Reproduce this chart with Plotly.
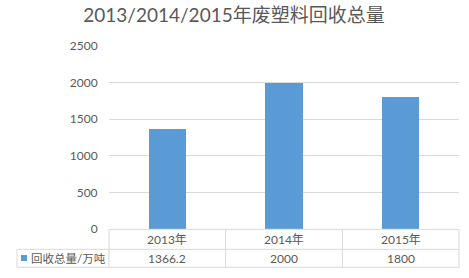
import plotly.graph_objects as go

categories = ["2013年", "2014年", "2015年"]
values = [1366.2, 2000, 1800]
value_labels = ["1366.2", "2000", "1800"]
series_name = "回收总量/万吨"
title = "2013/2014/2015年废塑料回收总量"
y_ticks = [0, 500, 1000, 1500, 2000, 2500]

W, H = 469, 278
L, R, T, B = 109, 10, 46, 49
ph = H - T - B
pw = W - L - R

FONT = "Lato, Noto Sans CJK SC, sans-serif"
TXT = "#595959"
GRID = "#D9D9D9"
BAR = "#5B9BD5"

xs = list(range(len(categories)))

fig = go.Figure()
fig.add_trace(go.Bar(x=xs, y=values, marker=dict(color=BAR, line=dict(width=0)),
                     width=0.32, name=series_name, showlegend=False, hoverinfo="skip"))

def py(pix):
    return (H - B - pix) / ph

def px(pix):
    return (pix - L) / pw

shapes = []
line = dict(color=GRID, width=1)
y0 = py(229.3); y1 = py(249.3); y2 = py(267.3)
xl = px(17)
shapes.append(dict(type="line", xref="paper", yref="paper", x0=0, x1=1, y0=y0, y1=y0, line=line))
shapes.append(dict(type="line", xref="paper", yref="paper", x0=xl, x1=1, y0=y1, y1=y1, line=line))
shapes.append(dict(type="line", xref="paper", yref="paper", x0=xl, x1=1, y0=y2, y1=y2, line=line))
shapes.append(dict(type="line", xref="paper", yref="paper", x0=xl, x1=xl, y0=y1, y1=y2, line=line))
for k in range(len(categories) + 1):
    xv = k / len(categories)
    shapes.append(dict(type="line", xref="paper", yref="paper", x0=xv, x1=xv, y0=y0, y1=y2, line=line))
shapes.append(dict(type="rect", xref="paper", yref="paper", x0=px(21), x1=px(27), y0=py(261), y1=py(255),
                   fillcolor=BAR, line=dict(width=0)))

annotations = []
for i, (c, v) in enumerate(zip(categories, value_labels)):
    annotations.append(dict(x=i, y=(y0 + y1) / 2, xref="x", yref="paper", text=c, showarrow=False,
                            font=dict(family=FONT, size=12, color=TXT), xanchor="center", yanchor="middle"))
    annotations.append(dict(x=i, y=(y1 + y2) / 2, xref="x", yref="paper", text=v, showarrow=False,
                            font=dict(family=FONT, size=12, color=TXT), xanchor="center", yanchor="middle"))
annotations.append(dict(x=px(29), y=(y1 + y2) / 2, xref="paper", yref="paper", text=series_name,
                        showarrow=False, font=dict(family=FONT, size=11.5, color=TXT),
                        xanchor="left", yanchor="middle"))

fig.update_layout(
    width=W, height=H,
    margin=dict(l=L, r=R, t=T, b=B, pad=0),
    paper_bgcolor="white", plot_bgcolor="white",
    title=dict(text=title, x=234 / W, xanchor="center", y=1 - 15 / H, yanchor="middle",
               font=dict(family=FONT, size=19, color=TXT)),
    xaxis=dict(range=[-0.5, len(categories) - 0.5], showticklabels=False, showgrid=False,
               zeroline=False, showline=False, ticks="", fixedrange=True),
    yaxis=dict(range=[0, 2500], tickvals=y_ticks, showgrid=True, gridcolor=GRID, gridwidth=1,
               zeroline=False, showline=False, ticks="outside", ticklen=8, tickcolor="rgba(0,0,0,0)",
               tickfont=dict(family=FONT, size=12, color=TXT)),
    shapes=shapes, annotations=annotations, bargap=0,
)

fig.write_html("out.html")
